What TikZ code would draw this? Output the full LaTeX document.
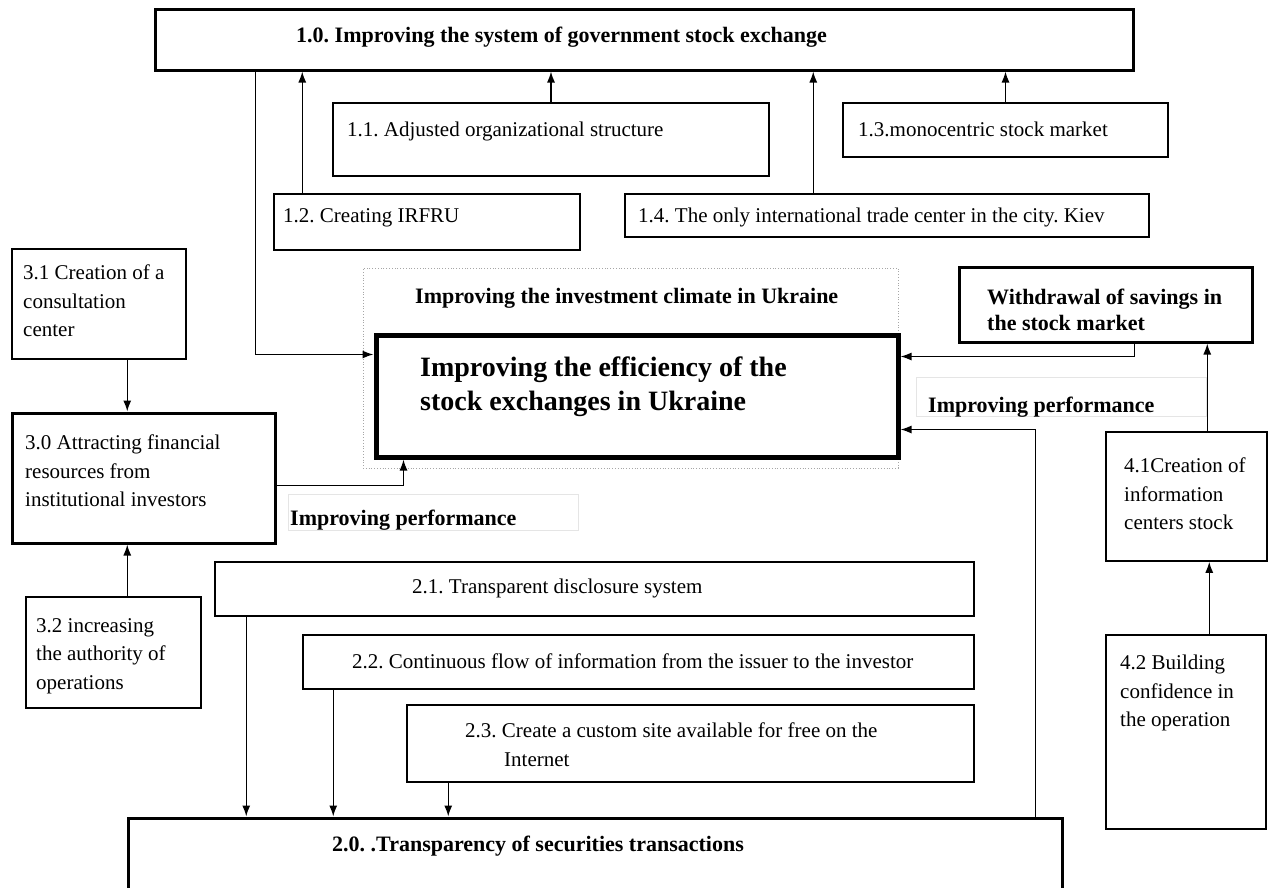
\documentclass[tikz,border=0pt]{standalone}
\usepackage{fontspec}
\setmainfont{Liberation Serif}
\usetikzlibrary{arrows.meta,fit,calc}
\frenchspacing
\begin{document}
\begin{tikzpicture}[x=1pt,y=-1pt,
  bx/.style={draw, line width=1.5pt, inner sep=0pt},
  thkbox/.style={draw, line width=3pt, inner sep=0pt},
  mainbox/.style={draw, line width=5pt, inner sep=0pt},
  dotbox/.style={draw=gray!70, dotted, line width=0.8pt, inner sep=0pt},
  faintbox/.style={draw=gray!20, line width=1pt, inner sep=0pt},
  reg/.style={font=\fontsize{21}{28}\selectfont, inner sep=0pt, anchor=north west, align=left},
  cam/.style={font=\fontsize{21}{28.5}\selectfont, inner sep=0pt, anchor=north west, align=left},
  bld/.style={font=\bfseries\fontsize{22}{26}\selectfont, inner sep=0pt, anchor=north west, align=left},
  big/.style={font=\bfseries\fontsize{28}{34}\selectfont, inner sep=0pt, anchor=north west, align=left},
  arr/.style={-{Latex[length=11pt,width=8pt]}, line width=1.4pt}
]
\clip (0,0) rectangle (1273,887);
\fill[white] (0,0) rectangle (1273,887);

% boxes
\node[thkbox, fit={(155,9) (1133,70)}] (b10) {};
\node[bx, fit={(333,103) (769,176)}] (b11) {};
\node[bx, fit={(843,103) (1168,157)}] (b13) {};
\node[bx, fit={(274,194) (580,250)}] (b12) {};
\node[bx, fit={(625,194) (1149,237)}] (b14) {};
\node[dotbox, fit={(363,268) (898,468)}] (clim) {};
\node[mainbox, fit={(376,335) (898,457)}] (main) {};
\node[thkbox, fit={(959,267) (1252,342)}] (wd) {};
\node[faintbox, fit={(916,377) (1206,416)}] (perfR) {};
\node[faintbox, fit={(288,494) (578,530)}] (perfL) {};
\node[bx, fit={(12,249) (186,359)}] (b31) {};
\node[thkbox, fit={(12,413) (275,543)}] (b30) {};
\node[bx, fit={(26,597) (201,708)}] (b32) {};
\node[bx, fit={(1106,432) (1267,561)}] (b41) {};
\node[bx, fit={(1106,635) (1266,829)}] (b42) {};
\node[bx, fit={(215,562) (974,616)}] (b21) {};
\node[bx, fit={(303,635) (974,689)}] (b22) {};
\node[bx, fit={(407,705) (974,782)}] (b23) {};
\node[thkbox, fit={(128,818) (1062,910)}] (b20) {};

% texts
\node[bld] (t10) at (296,27) {1.0. Improving the system of government stock exchange};
\node[reg] (t11) at (347,122) {1.1. Adjusted organizational structure};
\node[reg] (t13) at (858,122) {1.3.monocentric stock market};
\node[reg] (t12) at (283,208) {1.2. Creating IRFRU};
\node[reg] (t14) at (638,208) {1.4. The only international trade center in the city. Kiev};
\node[bld] (tclim) at (415,288) {Improving the investment climate in Ukraine};
\node[big] (tmain) at (420,357) {Improving the efficiency of the\\stock exchanges in Ukraine};
\node[bld] (twd) at (987,289) {Withdrawal of savings in\\the stock market};
\node[bld] (tperfR) at (928,397) {Improving performance};
\node[bld] (tperfL) at (290,510) {Improving performance};
\node[cam] (t31) at (23,265) {3.1 Creation of a\\consultation\\center};
\node[cam] (t30) at (25,435) {3.0 Attracting financial\\resources from\\institutional investors};
\node[cam] (t32) at (36,618) {3.2 increasing\\the authority of\\operations};
\node[cam] (t41) at (1124,458) {4.1Creation of\\information\\centers stock};
\node[cam] (t42) at (1120,655) {4.2 Building\\confidence in\\the operation};
\node[reg] (t21) at (412,579) {2.1. Transparent disclosure system};
\node[reg] (t22) at (352,653) {2.2. Continuous flow of information from the issuer to the investor};
\node[reg, font=\fontsize{21}{29}\selectfont] (t23) at (465,722) {2.3. Create a custom site available for free on the\\\hspace*{39pt}Internet};
\node[bld] (t20) at (332,836) {2.0. .Transparency of securities transactions};

% connector points
\coordinate (c12) at ($(b12.north west)+(29,0)$);
\coordinate (c14) at ($(b14.north west)+(189,0)$);
\coordinate (c10) at ($(b10.south west)+(102,0)$);
\coordinate (m1) at ($(main.north west)+(0,22)$);
\coordinate (c31) at ($(b31.south west)+(116,0)$);
\coordinate (c32) at ($(b32.north west)+(102,0)$);
\coordinate (c30) at ($(b30.north east)+(0,74)$);
\coordinate (m2) at ($(main.south west)+(30,0)$);
\coordinate (cw) at ($(wd.south west)+(177,0)$);
\coordinate (m3) at ($(main.north east)+(0,24)$);
\coordinate (c41) at ($(b41.north west)+(102,0)$);
\coordinate (c42) at ($(b42.north west)+(104,0)$);
\coordinate (c20) at ($(b20.north east)+(-28,0)$);
\coordinate (m4) at ($(main.north east)+(0,97)$);
\coordinate (c21) at ($(b21.south west)+(32,0)$);
\coordinate (c22) at ($(b22.south west)+(31,0)$);
\coordinate (c23) at ($(b23.south west)+(42,0)$);

% connectors
\draw[arr] (c12) -- (c12 |- b10.south);
\draw[arr] (b11.north) -- (b11.north |- b10.south);
\draw[arr] (c14) -- (c14 |- b10.south);
\draw[arr] (b13.north) -- (b13.north |- b10.south);
\draw[arr] (c10) |- (m1);
\draw[arr] (c31) -- (c31 |- b30.north);
\draw[arr] (c32) -- (c32 |- b30.south);
\draw[arr] (c30) -| (m2);
\draw[arr] (cw) |- (m3);
\draw[arr] (c41) -- (c41 |- wd.south);
\draw[arr] (c42) -- (c42 |- b41.south);
\draw[arr] (c20) |- (m4);
\draw[arr] (c21) -- (c21 |- b20.north);
\draw[arr] (c22) -- (c22 |- b20.north);
\draw[arr] (c23) -- (c23 |- b20.north);
\end{tikzpicture}
\end{document}
